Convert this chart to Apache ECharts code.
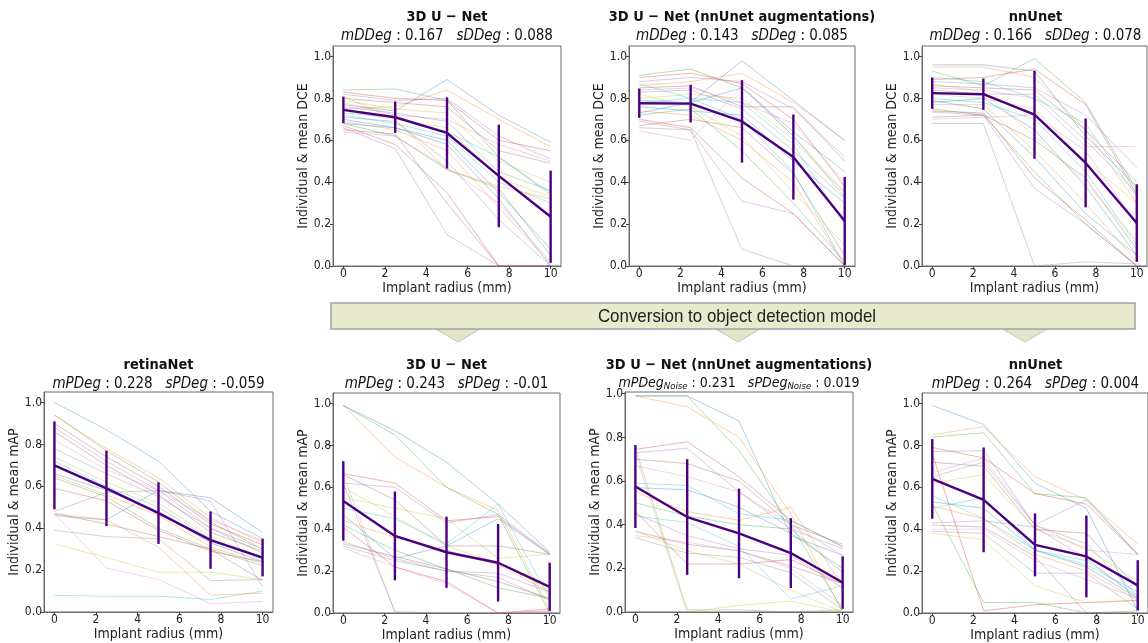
<!DOCTYPE html>
<html>
<head>
<meta charset="utf-8">
<script src="https://cdn.jsdelivr.net/npm/echarts@6/dist/echarts.min.js"></script>
<style>
html,body{margin:0;padding:0;background:#fff;}
#chart{width:1148px;height:643px;}
</style>
</head>
<body>
<div id="chart"></div>
<script>
// ---------------- DATA ----------------
const xValues = [0, 2.5, 5, 7.5, 10];
const xTickValues = [0, 2, 4, 6, 8, 10];
const yTickValues = [0, 0.2, 0.4, 0.6, 0.8, 1.0];

// Top row: DCE (segmentation models)
const dceUnetLines = [
  [0.77, 0.74, 0.89, 0.72, 0.59],
  [0.75, 0.76, 0.84, 0.70, 0.57],
  [0.84, 0.845, 0.79, 0.52, 0.34],
  [0.83, 0.80, 0.79, 0.60, 0.55],
  [0.82, 0.79, 0.80, 0.62, 0.51],
  [0.80, 0.78, 0.76, 0.55, 0.49],
  [0.78, 0.72, 0.70, 0.58, 0.50],
  [0.76, 0.73, 0.69, 0.45, 0.36],
  [0.74, 0.70, 0.66, 0.42, 0.33],
  [0.72, 0.68, 0.62, 0.40, 0.30],
  [0.70, 0.66, 0.58, 0.32, 0.00],
  [0.69, 0.65, 0.55, 0.28, 0.01],
  [0.68, 0.62, 0.46, 0.37, 0.05],
  [0.67, 0.58, 0.35, 0.00, 0.00],
  [0.66, 0.56, 0.15, 0.00, 0.00],
  [0.65, 0.63, 0.30, 0.00, 0.00],
  [0.64, 0.62, 0.47, 0.30, 0.02],
  [0.71, 0.69, 0.50, 0.22, 0.00],
  [0.79, 0.75, 0.73, 0.50, 0.40],
  [0.73, 0.71, 0.64, 0.52, 0.35],
  [0.68, 0.66, 0.60, 0.35, 0.08],
  [0.81, 0.70, 0.46, 0.38, 0.32]
];
const dceUnetMean = [0.745, 0.71, 0.635, 0.43, 0.235];
const dceUnetErr = [0.063, 0.075, 0.17, 0.245, 0.22];

const dceUnetAugLines = [
  [0.73, 0.78, 0.98, 0.79, 0.60],
  [0.86, 0.88, 0.92, 0.78, 0.60],
  [0.91, 0.94, 0.85, 0.62, 0.33],
  [0.90, 0.92, 0.87, 0.70, 0.38],
  [0.88, 0.90, 0.88, 0.75, 0.52],
  [0.85, 0.86, 0.76, 0.76, 0.50],
  [0.84, 0.85, 0.78, 0.68, 0.40],
  [0.83, 0.84, 0.75, 0.55, 0.32],
  [0.80, 0.82, 0.80, 0.60, 0.35],
  [0.78, 0.80, 0.70, 0.45, 0.00],
  [0.76, 0.74, 0.72, 0.50, 0.30],
  [0.74, 0.72, 0.60, 0.40, 0.00],
  [0.72, 0.75, 0.55, 0.30, 0.02],
  [0.70, 0.66, 0.42, 0.25, 0.00],
  [0.69, 0.65, 0.31, 0.25, 0.00],
  [0.67, 0.70, 0.66, 0.44, 0.05],
  [0.645, 0.60, 0.86, 0.62, 0.35],
  [0.66, 0.65, 0.08, 0.00, 0.00],
  [0.82, 0.76, 0.62, 0.35, 0.10],
  [0.87, 0.80, 0.78, 0.58, 0.20],
  [0.79, 0.78, 0.85, 0.64, 0.45]
];
const dceUnetAugMean = [0.777, 0.775, 0.69, 0.52, 0.215];
const dceUnetAugErr = [0.07, 0.09, 0.197, 0.203, 0.21];

const dceNnunetLines = [
  [0.96, 0.96, 0.93, 0.62, 0.38],
  [0.95, 0.95, 0.90, 0.65, 0.30],
  [0.93, 0.86, 0.99, 0.78, 0.36],
  [0.89, 0.90, 0.94, 0.77, 0.34],
  [0.88, 0.87, 0.85, 0.72, 0.47],
  [0.86, 0.85, 0.84, 0.65, 0.40],
  [0.85, 0.84, 0.80, 0.57, 0.57],
  [0.84, 0.82, 0.82, 0.60, 0.35],
  [0.82, 0.80, 0.75, 0.50, 0.30],
  [0.80, 0.78, 0.70, 0.45, 0.10],
  [0.78, 0.80, 0.65, 0.38, 0.05],
  [0.77, 0.77, 0.55, 0.30, 0.02],
  [0.75, 0.72, 0.45, 0.20, 0.00],
  [0.74, 0.73, 0.42, 0.22, 0.00],
  [0.735, 0.72, 0.37, 0.20, 0.00],
  [0.71, 0.72, 0.60, 0.42, 0.08],
  [0.70, 0.71, 0.72, 0.55, 0.20],
  [0.68, 0.68, 0.00, 0.02, 0.01],
  [0.87, 0.83, 0.62, 0.40, 0.12],
  [0.90, 0.88, 0.80, 0.68, 0.33],
  [0.79, 0.75, 0.52, 0.25, 0.05]
];
const dceNnunetMean = [0.825, 0.82, 0.722, 0.492, 0.205];
const dceNnunetErr = [0.075, 0.075, 0.21, 0.212, 0.185];

// Bottom row: mAP (object detection models)
const mapRetinaLines = [
  [1.00, 0.87, 0.72, 0.48, 0.35],
  [0.94, 0.78, 0.64, 0.45, 0.33],
  [0.94, 0.77, 0.62, 0.43, 0.30],
  [0.90, 0.74, 0.60, 0.42, 0.32],
  [0.88, 0.72, 0.58, 0.40, 0.30],
  [0.86, 0.70, 0.56, 0.38, 0.29],
  [0.82, 0.68, 0.58, 0.44, 0.34],
  [0.78, 0.66, 0.55, 0.40, 0.28],
  [0.74, 0.62, 0.52, 0.36, 0.26],
  [0.72, 0.60, 0.50, 0.35, 0.25],
  [0.66, 0.58, 0.48, 0.33, 0.24],
  [0.65, 0.56, 0.46, 0.31, 0.23],
  [0.64, 0.55, 0.40, 0.30, 0.22],
  [0.59, 0.53, 0.39, 0.29, 0.24],
  [0.48, 0.57, 0.58, 0.53, 0.12],
  [0.47, 0.42, 0.36, 0.30, 0.15],
  [0.47, 0.21, 0.155, 0.04, 0.05],
  [0.39, 0.36, 0.35, 0.15, 0.155],
  [0.325, 0.26, 0.19, 0.19, 0.155],
  [0.08, 0.075, 0.075, 0.06, 0.10],
  [0.46, 0.44, 0.58, 0.545, 0.38],
  [0.47, 0.44, 0.31, 0.08, 0.09]
];
const mapRetinaMean = [0.70, 0.59, 0.472, 0.343, 0.26];
const mapRetinaErr = [0.21, 0.18, 0.147, 0.137, 0.09];

const mapUnetLines = [
  [0.99, 0.87, 0.72, 0.52, 0.29],
  [0.99, 0.745, 0.60, 0.49, 0.02],
  [0.99, 0.85, 0.60, 0.47, 0.00],
  [0.665, 0.62, 0.44, 0.46, 0.28],
  [0.62, 0.60, 0.43, 0.47, 0.285],
  [0.66, 0.54, 0.32, 0.32, 0.28],
  [0.66, 0.005, 0.00, 0.00, 0.01],
  [0.62, 0.005, 0.00, 0.00, 0.00],
  [0.55, 0.50, 0.45, 0.26, 0.28],
  [0.50, 0.45, 0.33, 0.52, 0.07],
  [0.47, 0.26, 0.32, 0.45, 0.28],
  [0.44, 0.36, 0.30, 0.23, 0.10],
  [0.42, 0.30, 0.21, 0.12, 0.07],
  [0.41, 0.22, 0.15, 0.00, 0.02],
  [0.34, 0.26, 0.20, 0.19, 0.10],
  [0.33, 0.27, 0.21, 0.15, 0.07],
  [0.31, 0.22, 0.14, 0.00, 0.01],
  [0.32, 0.25, 0.20, 0.17, 0.06],
  [0.60, 0.46, 0.32, 0.24, 0.11]
];
const mapUnetMean = [0.535, 0.368, 0.29, 0.24, 0.125];
const mapUnetErr = [0.19, 0.212, 0.17, 0.185, 0.115];

const mapUnetAugLines = [
  [0.99, 0.99, 0.875, 0.35, 0.26],
  [0.99, 0.94, 0.80, 0.45, 0.00],
  [0.99, 0.99, 0.74, 0.40, 0.01],
  [0.745, 0.78, 0.62, 0.42, 0.30],
  [0.73, 0.75, 0.55, 0.38, 0.29],
  [0.70, 0.68, 0.60, 0.40, 0.31],
  [0.67, 0.62, 0.55, 0.40, 0.26],
  [0.75, 0.01, 0.01, 0.00, 0.01],
  [0.72, 0.00, 0.03, 0.05, 0.00],
  [0.59, 0.58, 0.45, 0.42, 0.30],
  [0.57, 0.56, 0.48, 0.36, 0.20],
  [0.55, 0.46, 0.42, 0.48, 0.12],
  [0.50, 0.44, 0.40, 0.38, 0.18],
  [0.46, 0.22, 0.22, 0.24, 0.13],
  [0.45, 0.35, 0.29, 0.26, 0.11],
  [0.37, 0.31, 0.28, 0.21, 0.13],
  [0.35, 0.32, 0.28, 0.20, 0.03],
  [0.34, 0.27, 0.25, 0.18, 0.01],
  [0.37, 0.28, 0.22, 0.10, 0.00],
  [0.44, 0.41, 0.30, 0.06, 0.12]
];
const mapUnetAugMean = [0.575, 0.435, 0.36, 0.27, 0.135];
const mapUnetAugErr = [0.19, 0.265, 0.205, 0.16, 0.12];

const mapNnunetLines = [
  [0.99, 0.90, 0.62, 0.50, 0.01],
  [0.85, 0.89, 0.65, 0.54, 0.33],
  [0.84, 0.86, 0.57, 0.55, 0.28],
  [0.79, 0.74, 0.57, 0.52, 0.28],
  [0.77, 0.775, 0.42, 0.54, 0.28],
  [0.72, 0.70, 0.40, 0.38, 0.12],
  [0.67, 0.74, 0.42, 0.30, 0.28],
  [0.65, 0.72, 0.42, 0.33, 0.08],
  [0.62, 0.66, 0.40, 0.31, 0.15],
  [0.56, 0.45, 0.30, 0.25, 0.08],
  [0.53, 0.50, 0.30, 0.22, 0.07],
  [0.51, 0.45, 0.28, 0.20, 0.06],
  [0.52, 0.05, 0.05, 0.00, 0.00],
  [0.76, 0.01, 0.04, 0.05, 0.06],
  [0.43, 0.44, 0.41, 0.26, 0.07],
  [0.42, 0.41, 0.27, 0.00, 0.01],
  [0.40, 0.40, 0.25, 0.16, 0.07],
  [0.39, 0.38, 0.19, 0.19, 0.02],
  [0.38, 0.35, 0.13, 0.05, 0.06],
  [0.50, 0.55, 0.30, 0.23, 0.10]
];
const mapNnunetMean = [0.64, 0.54, 0.325, 0.27, 0.132];
const mapNnunetErr = [0.19, 0.25, 0.15, 0.195, 0.12];

const panelTitles = ['3D U \u2212 Net', '3D U \u2212 Net (nnUnet augmentations)', 'nnUnet',
                     'retinaNet', '3D U \u2212 Net', '3D U \u2212 Net (nnUnet augmentations)', 'nnUnet'];
const statNames = [['mDDeg', 'sDDeg'], ['mDDeg', 'sDDeg'], ['mDDeg', 'sDDeg'],
                   ['mPDeg', 'sPDeg'], ['mPDeg', 'sPDeg'], ['mPDeg', 'sPDeg'], ['mPDeg', 'sPDeg']];
const statSubscripts = ['', '', '', '', '', 'Noise', ''];
const statValues = [['0.167', '0.088'], ['0.143', '0.085'], ['0.166', '0.078'],
                    ['0.228', '-0.059'], ['0.243', '-0.01'], ['0.231', '0.019'], ['0.264', '0.004']];
const yAxisNames = ['Individual & mean DCE', 'Individual & mean DCE', 'Individual & mean DCE',
                    'Individual & mean mAP', 'Individual & mean mAP', 'Individual & mean mAP', 'Individual & mean mAP'];
const xAxisName = 'Implant radius (mm)';
const bannerText = 'Conversion to object detection model';

// ---------------- LAYOUT / STYLE ----------------
const FONT = 'DejaVu Sans Condensed, DejaVu Sans';
const tab10 = ['#1f77b4','#ff7f0e','#2ca02c','#d62728','#9467bd','#8c564b','#e377c2','#7f7f7f','#bcbd22','#17becf'];
const MEAN_COLOR = '#4B0082';

const panels = [
  {lines: dceUnetLines, mean: dceUnetMean, err: dceUnetErr, box: [333, 46, 228, 220], ymax: 1.05, titleY: 17, subY: 36},
  {lines: dceUnetAugLines, mean: dceUnetAugMean, err: dceUnetAugErr, box: [629, 46, 226, 220], ymax: 1.05, titleY: 17, subY: 36},
  {lines: dceNnunetLines, mean: dceNnunetMean, err: dceNnunetErr, box: [922, 46, 225, 220], ymax: 1.05, titleY: 17, subY: 36},
  {lines: mapRetinaLines, mean: mapRetinaMean, err: mapRetinaErr, box: [44, 392, 229, 220], ymax: 1.05, titleY: 365, subY: 384},
  {lines: mapUnetLines, mean: mapUnetMean, err: mapUnetErr, box: [333, 393, 227, 220], ymax: 1.05, titleY: 365, subY: 384},
  {lines: mapUnetAugLines, mean: mapUnetAugMean, err: mapUnetAugErr, box: [625, 392, 228, 220], ymax: 1.008, titleY: 365, subY: 383},
  {lines: mapNnunetLines, mean: mapNnunetMean, err: mapNnunetErr, box: [922, 393, 230, 220], ymax: 1.05, titleY: 365, subY: 384}
];

const grids = [], xAxes = [], yAxes = [], series = [], graphics = [];

panels.forEach((p, i) => {
  const [l, t, w, h] = p.box;
  grids.push({left: l, top: t, width: w, height: h, show: true, borderColor: '#6b6b6b', borderWidth: 1, backgroundColor: 'transparent'});
  xAxes.push({
    type: 'value', gridIndex: i, min: -0.5, max: 10.5,
    name: xAxisName, nameLocation: 'middle', nameGap: 14,
    nameTextStyle: {fontFamily: FONT, fontSize: 14, color: '#222'},
    axisLine: {show: true, onZero: false, lineStyle: {color: '#6b6b6b', width: 1}},
    axisTick: {show: true, length: 3, customValues: xTickValues, lineStyle: {color: '#444'}},
    axisLabel: {show: true, margin: 2, customValues: xTickValues, fontFamily: FONT, fontSize: 12, color: '#222',
                formatter: v => String(v)},
    splitLine: {show: false}
  });
  yAxes.push({
    type: 'value', gridIndex: i, min: 0, max: p.ymax,
    name: yAxisNames[i], nameLocation: 'middle', nameGap: 22,
    nameTextStyle: {fontFamily: FONT, fontSize: 14, color: '#222'},
    axisLine: {show: true, onZero: false, lineStyle: {color: '#6b6b6b', width: 1}},
    axisTick: {show: true, length: 3, customValues: yTickValues, lineStyle: {color: '#444'}},
    axisLabel: {show: true, margin: 2, customValues: yTickValues, fontFamily: FONT, fontSize: 12, color: '#222',
                formatter: v => v.toFixed(1)},
    splitLine: {show: false}
  });
  p.lines.forEach((line, j) => {
    series.push({
      type: 'line', xAxisIndex: i, yAxisIndex: i, silent: true, showSymbol: false, symbol: 'none',
      data: xValues.map((x, k) => [x, line[k]]),
      lineStyle: {color: tab10[j % 10], width: 1, opacity: 0.35}, z: 1
    });
  });
  series.push({
    type: 'line', xAxisIndex: i, yAxisIndex: i, silent: true, showSymbol: false, symbol: 'none',
    data: xValues.map((x, k) => [x, p.mean[k]]),
    lineStyle: {color: MEAN_COLOR, width: 2.4}, z: 5
  });
  series.push({
    type: 'custom', xAxisIndex: i, yAxisIndex: i, silent: true, z: 6,
    data: xValues.map((x, k) => [x, p.mean[k], p.err[k]]),
    encode: {x: 0, y: 1},
    renderItem: (params, api) => {
      const x = api.value(0), m = api.value(1), e = api.value(2);
      const a = api.coord([x, m - e]), b = api.coord([x, m + e]);
      return {type: 'line', shape: {x1: a[0], y1: a[1], x2: b[0], y2: b[1]}, style: {stroke: MEAN_COLOR, lineWidth: 2.4}};
    }
  });
  const cx = l + w / 2;
  const cxTitle = (i === 2 || i === 6) ? 1035.5 : cx;
  graphics.push({
    type: 'text', x: cxTitle, y: p.titleY,
    style: {text: panelTitles[i], fontFamily: FONT, fontSize: 14.5, fontWeight: 'bold', fill: '#111', align: 'center', verticalAlign: 'middle'}
  });
  const sub = statSubscripts[i];
  const subPart = sub ? '{s|' + sub + '}' : '';
  const txt = '{i|' + statNames[i][0] + '}' + subPart + '{n| : ' + statValues[i][0] + '   }' +
              '{i|' + statNames[i][1] + '}' + subPart + '{n| : ' + statValues[i][1] + '}';
  graphics.push({
    type: 'text', x: cxTitle, y: p.subY,
    style: {
      text: txt, align: 'center', verticalAlign: 'middle',
      rich: {
        i: {fontFamily: FONT, fontSize: sub ? 14 : 15, fontStyle: 'italic', fill: '#111', lineHeight: 18, verticalAlign: 'middle'},
        n: {fontFamily: FONT, fontSize: sub ? 14 : 15, fill: '#111', lineHeight: 18, verticalAlign: 'middle'},
        s: {fontFamily: FONT, fontSize: 9.5, fontStyle: 'italic', fill: '#111', lineHeight: 18, verticalAlign: 'bottom'}
      }
    }
  });
});

// Banner and arrows
const triCenters = [458, 738, 1025];
triCenters.forEach(c => {
  graphics.push({
    type: 'polygon', shape: {points: [[c - 24, 328], [c + 24, 328], [c, 342]]},
    style: {fill: '#e4e6cb', stroke: '#c4c4b8', lineWidth: 1}, z: 10
  });
});
graphics.push({
  type: 'rect', shape: {x: 331, y: 303, width: 804, height: 26},
  style: {fill: '#e8eacd', stroke: '#a3a3a3', lineWidth: 1.5}, z: 11
});
graphics.push({
  type: 'text', x: 737, y: 316.5, z: 12, scaleX: 0.89,
  style: {text: bannerText, fontFamily: 'Liberation Sans', fontSize: 19, fill: '#222', align: 'center', verticalAlign: 'middle'}
});

const chart = echarts.init(document.getElementById('chart'), null, {renderer: 'canvas'});
chart.setOption({
  animation: false,
  backgroundColor: '#fff',
  grid: grids, xAxis: xAxes, yAxis: yAxes, series: series, graphic: graphics
});
</script>
</body>
</html>
